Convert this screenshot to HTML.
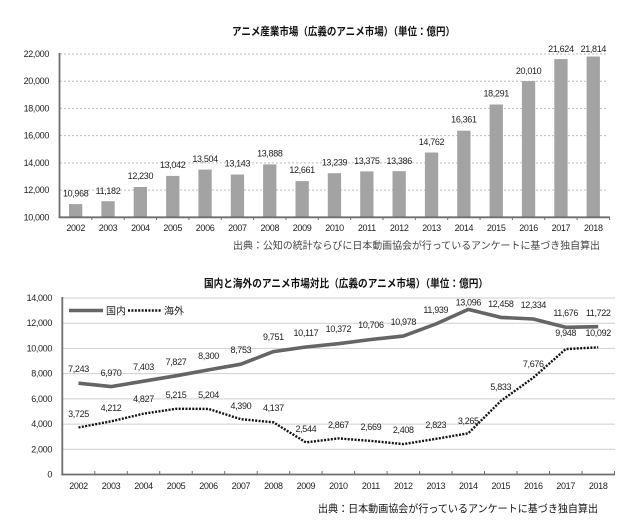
<!DOCTYPE html>
<html><head><meta charset="utf-8"><style>
html,body{margin:0;padding:0;background:#fff;}
svg{display:block;}
.n{font-family:"Liberation Sans","Noto Sans CJK JP",sans-serif;font-size:9px;letter-spacing:-0.35px;fill:#222;}
.j{font-family:"Liberation Sans","Noto Sans CJK JP",sans-serif;}
</style></head><body>
<svg width="640" height="523" viewBox="0 0 640 523" xmlns="http://www.w3.org/2000/svg">
<rect width="640" height="523" fill="#fff"/>
<!-- ===== TOP CHART ===== -->
<text class="j" x="232" y="35" font-size="11" font-weight="bold" textLength="223" lengthAdjust="spacingAndGlyphs" fill="#111">アニメ産業市場（広義のアニメ市場）（単位：億円）</text>
<g stroke="#bdbdbd" stroke-width="1" stroke-dasharray="2 2">
<line x1="60" y1="54" x2="607" y2="54"/>
<line x1="60" y1="81.2" x2="607" y2="81.2"/>
<line x1="60" y1="108.4" x2="607" y2="108.4"/>
<line x1="60" y1="135.6" x2="607" y2="135.6"/>
<line x1="60" y1="162.9" x2="607" y2="162.9"/>
<line x1="60" y1="190.1" x2="607" y2="190.1"/>
</g>
<g fill="#a3a3a3">
<rect x="69.0" y="204.1" width="13.3" height="13.2"/>
<rect x="101.4" y="201.2" width="13.3" height="16.1"/>
<rect x="133.7" y="187.0" width="13.3" height="30.3"/>
<rect x="166.1" y="175.9" width="13.3" height="41.4"/>
<rect x="198.4" y="169.6" width="13.3" height="47.7"/>
<rect x="230.8" y="174.5" width="13.3" height="42.8"/>
<rect x="263.1" y="164.4" width="13.3" height="52.9"/>
<rect x="295.5" y="181.1" width="13.3" height="36.2"/>
<rect x="327.8" y="173.2" width="13.3" height="44.1"/>
<rect x="360.2" y="171.4" width="13.3" height="45.9"/>
<rect x="392.5" y="171.2" width="13.3" height="46.1"/>
<rect x="424.9" y="152.5" width="13.3" height="64.8"/>
<rect x="457.2" y="130.7" width="13.3" height="86.6"/>
<rect x="489.6" y="104.5" width="13.3" height="112.8"/>
<rect x="521.9" y="81.1" width="13.3" height="136.2"/>
<rect x="554.3" y="59.1" width="13.3" height="158.2"/>
<rect x="586.6" y="56.5" width="13.3" height="160.8"/>
</g>
<g stroke="#6e6e6e">
<line x1="59.5" y1="53" x2="59.5" y2="218" stroke-width="1.8"/>
<line x1="58.6" y1="217.3" x2="610" y2="217.3" stroke-width="1.8"/>
</g>
<g stroke="#6e6e6e" stroke-width="1">
<line x1="91.85" y1="217" x2="91.85" y2="220"/><line x1="124.2" y1="217" x2="124.2" y2="220"/><line x1="156.55" y1="217" x2="156.55" y2="220"/><line x1="188.9" y1="217" x2="188.9" y2="220"/><line x1="221.25" y1="217" x2="221.25" y2="220"/><line x1="253.6" y1="217" x2="253.6" y2="220"/><line x1="285.95" y1="217" x2="285.95" y2="220"/><line x1="318.3" y1="217" x2="318.3" y2="220"/><line x1="350.65" y1="217" x2="350.65" y2="220"/><line x1="383" y1="217" x2="383" y2="220"/><line x1="415.35" y1="217" x2="415.35" y2="220"/><line x1="447.7" y1="217" x2="447.7" y2="220"/><line x1="480.05" y1="217" x2="480.05" y2="220"/><line x1="512.4" y1="217" x2="512.4" y2="220"/><line x1="544.75" y1="217" x2="544.75" y2="220"/><line x1="577.1" y1="217" x2="577.1" y2="220"/><line x1="609.45" y1="217" x2="609.45" y2="220"/>
</g>
<g class="n" text-anchor="end">
<text x="49" y="57">22,000</text>
<text x="49" y="84.2">20,000</text>
<text x="49" y="111.4">18,000</text>
<text x="49" y="138.6">16,000</text>
<text x="49" y="165.9">14,000</text>
<text x="49" y="193.1">12,000</text>
<text x="49" y="220.3">10,000</text>
</g>
<g class="n" text-anchor="middle">
<text x="75.7" y="231">2002</text><text x="108.0" y="231">2003</text><text x="140.4" y="231">2004</text><text x="172.7" y="231">2005</text><text x="205.1" y="231">2006</text><text x="237.4" y="231">2007</text><text x="269.8" y="231">2008</text><text x="302.1" y="231">2009</text><text x="334.5" y="231">2010</text><text x="366.8" y="231">2011</text><text x="399.2" y="231">2012</text><text x="431.5" y="231">2013</text><text x="463.9" y="231">2014</text><text x="496.2" y="231">2015</text><text x="528.6" y="231">2016</text><text x="560.9" y="231">2017</text><text x="593.3" y="231">2018</text>
</g>
<g class="n" text-anchor="middle">
<text x="75.7" y="196.5">10,968</text>
<text x="108.0" y="194">11,182</text>
<text x="140.4" y="179">12,230</text>
<text x="172.7" y="168">13,042</text>
<text x="205.1" y="162">13,504</text>
<text x="237.4" y="166.5">13,143</text>
<text x="269.8" y="156.5">13,888</text>
<text x="302.1" y="173">12,661</text>
<text x="334.5" y="165.5">13,239</text>
<text x="366.8" y="164">13,375</text>
<text x="399.2" y="164">13,386</text>
<text x="431.5" y="145">14,762</text>
<text x="463.9" y="122.5">16,361</text>
<text x="496.2" y="96.5">18,291</text>
<text x="528.6" y="74">20,010</text>
<text x="560.9" y="52">21,624</text>
<text x="593.3" y="52">21,814</text>
</g>
<text class="j" x="233" y="249" font-size="10" textLength="367" lengthAdjust="spacingAndGlyphs" fill="#444">出典：公知の統計ならびに日本動画協会が行っているアンケートに基づき独自算出</text>

<!-- ===== BOTTOM CHART ===== -->
<text class="j" x="204" y="287" font-size="11" font-weight="bold" textLength="284" lengthAdjust="spacingAndGlyphs" fill="#111">国内と海外のアニメ市場対比（広義のアニメ市場）（単位：億円）</text>
<g stroke="#cfcfcf" stroke-width="1">
<line x1="62" y1="298" x2="615" y2="298"/>
<line x1="62" y1="323.2" x2="615" y2="323.2"/>
<line x1="62" y1="348.4" x2="615" y2="348.4"/>
<line x1="62" y1="373.6" x2="615" y2="373.6"/>
<line x1="62" y1="398.9" x2="615" y2="398.9"/>
<line x1="62" y1="424.1" x2="615" y2="424.1"/>
<line x1="62" y1="449.3" x2="615" y2="449.3"/>
</g>
<g stroke="#6e6e6e">
<line x1="62.3" y1="297" x2="62.3" y2="475.5" stroke-width="1.8"/>
<line x1="61.4" y1="474.5" x2="615" y2="474.5" stroke-width="1.8"/>
</g>
<g stroke="#6e6e6e" stroke-width="1">
<line x1="94.8" y1="471" x2="94.8" y2="474"/><line x1="127.3" y1="471" x2="127.3" y2="474"/><line x1="159.7" y1="471" x2="159.7" y2="474"/><line x1="192.2" y1="471" x2="192.2" y2="474"/><line x1="224.7" y1="471" x2="224.7" y2="474"/><line x1="257.2" y1="471" x2="257.2" y2="474"/><line x1="289.7" y1="471" x2="289.7" y2="474"/><line x1="322.1" y1="471" x2="322.1" y2="474"/><line x1="354.6" y1="471" x2="354.6" y2="474"/><line x1="387.1" y1="471" x2="387.1" y2="474"/><line x1="419.6" y1="471" x2="419.6" y2="474"/><line x1="452.1" y1="471" x2="452.1" y2="474"/><line x1="484.5" y1="471" x2="484.5" y2="474"/><line x1="517.0" y1="471" x2="517.0" y2="474"/><line x1="549.5" y1="471" x2="549.5" y2="474"/><line x1="582.0" y1="471" x2="582.0" y2="474"/><line x1="614.5" y1="471" x2="614.5" y2="474"/>
</g>
<g class="n" text-anchor="end">
<text x="52" y="301">14,000</text>
<text x="52" y="326.2">12,000</text>
<text x="52" y="351.4">10,000</text>
<text x="52" y="376.6">8,000</text>
<text x="52" y="401.9">6,000</text>
<text x="52" y="427.1">4,000</text>
<text x="52" y="452.3">2,000</text>
<text x="52" y="477.5">0</text>
</g>
<g class="n" text-anchor="middle">
<text x="78.5" y="489">2002</text><text x="111.0" y="489">2003</text><text x="143.5" y="489">2004</text><text x="176.0" y="489">2005</text><text x="208.5" y="489">2006</text><text x="240.9" y="489">2007</text><text x="273.4" y="489">2008</text><text x="305.9" y="489">2009</text><text x="338.4" y="489">2010</text><text x="370.9" y="489">2011</text><text x="403.3" y="489">2012</text><text x="435.8" y="489">2013</text><text x="468.3" y="489">2014</text><text x="500.8" y="489">2015</text><text x="533.3" y="489">2016</text><text x="565.7" y="489">2017</text><text x="598.2" y="489">2018</text>
</g>
<!-- domestic line -->
<polyline fill="none" stroke="#656565" stroke-width="3.6" stroke-linejoin="round" points="78.5,383.2 111.0,386.6 143.5,381.2 176.0,375.8 208.5,369.9 240.9,364.2 273.4,351.6 305.9,347.0 338.4,343.7 370.9,339.5 403.3,336.1 435.8,324.0 468.3,309.4 500.8,317.4 533.3,319.0 565.7,327.3 598.2,326.7"/>
<!-- overseas line -->
<polyline fill="none" stroke="#111" stroke-width="2.4" stroke-dasharray="2 1.4" points="78.5,427.5 111.0,421.4 143.5,413.7 176.0,408.8 208.5,408.9 240.9,419.2 273.4,422.3 305.9,442.4 338.4,438.4 370.9,440.9 403.3,444.1 435.8,438.9 468.3,433.3 500.8,401.0 533.3,377.7 565.7,349.1 598.2,347.3"/>
<!-- legend -->
<line x1="69" y1="310.5" x2="103" y2="310.5" stroke="#656565" stroke-width="3.6"/>
<text class="j" x="106" y="314.5" font-size="10" fill="#222">国内</text>
<line x1="128" y1="310.5" x2="162" y2="310.5" stroke="#111" stroke-width="2.4" stroke-dasharray="2 1.4"/>
<text class="j" x="164" y="314.5" font-size="10" fill="#222">海外</text>
<!-- domestic labels -->
<g class="n" text-anchor="middle">
<text x="78.5" y="372">7,243</text>
<text x="111.0" y="376">6,970</text>
<text x="143.5" y="370">7,403</text>
<text x="176.0" y="365">7,827</text>
<text x="208.5" y="359">8,300</text>
<text x="240.9" y="353">8,753</text>
<text x="273.4" y="340">9,751</text>
<text x="305.9" y="336">10,117</text>
<text x="338.4" y="332">10,372</text>
<text x="370.9" y="328">10,706</text>
<text x="403.3" y="325">10,978</text>
<text x="435.8" y="313">11,939</text>
<text x="468.3" y="305.5">13,096</text>
<text x="500.8" y="307">12,458</text>
<text x="533.3" y="308">12,334</text>
<text x="565.7" y="316">11,676</text>
<text x="598.2" y="316">11,722</text>
</g>
<!-- overseas labels -->
<g class="n" text-anchor="middle">
<text x="78.5" y="417">3,725</text>
<text x="111.0" y="411">4,212</text>
<text x="143.5" y="402">4,827</text>
<text x="176.0" y="398">5,215</text>
<text x="208.5" y="398">5,204</text>
<text x="240.9" y="409">4,390</text>
<text x="273.4" y="411">4,137</text>
<text x="305.9" y="432">2,544</text>
<text x="338.4" y="428">2,867</text>
<text x="370.9" y="430">2,669</text>
<text x="403.3" y="433">2,408</text>
<text x="435.8" y="428">2,823</text>
<text x="468.3" y="424">3,265</text>
<text x="500.8" y="390">5,833</text>
<text x="533.3" y="367">7,676</text>
<text x="565.7" y="336">9,948</text>
<text x="598.2" y="336">10,092</text>
</g>
<text class="j" x="318" y="512" font-size="10.5" textLength="280" lengthAdjust="spacingAndGlyphs" fill="#111">出典：日本動画協会が行っているアンケートに基づき独自算出</text>
</svg>
</body></html>
